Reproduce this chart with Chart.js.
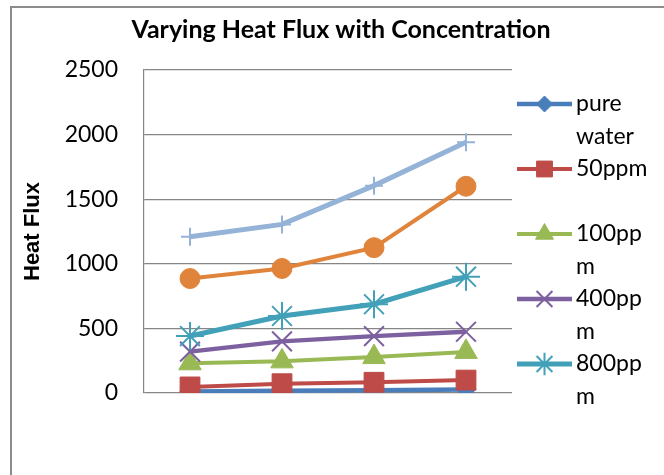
<!DOCTYPE html>
<html lang="en">
<head>
  <meta charset="UTF-8">
  <title>Varying Heat Flux with Concentration</title>
  <script src="https://cdn.jsdelivr.net/npm/chart.js"></script>
  <style>
    html, body { margin: 0; padding: 0; background: #fff; }
    canvas { display: block; }
  </style>
</head>
<body>
  <canvas id="grafico" width="664" height="475"></canvas>

  <script>
    // data
    const categories = ['1', '2', '3', '4'];
    const seriesNames = ['pure water', '50ppm', '100ppm', '400ppm', '800ppm', 'Series6', 'Series7'];
    const pureWater = [12, 18, 22, 28];
    const ppm50 = [47, 72, 83, 100];
    const ppm100 = [230, 245, 278, 318];
    const ppm400 = [320, 400, 440, 474];
    const ppm800 = [441, 596, 687, 900];
    const series6 = [886, 964, 1125, 1600];
    const series7 = [1210, 1305, 1605, 1940];
    const yTicks = [0, 500, 1000, 1500, 2000, 2500];
    const legendCount = 5; // only the first five fit in the legend

    const colors = ['#4a7ebb', '#be4b48', '#98b954', '#7d60a0', '#42a1b9', '#e0843b', '#95b3d7'];
    const styles = ['rectRot', 'rect', 'triangle', 'crossRot', 'star', 'circle', 'cross'];
    const radii = [10, 14, 13, 14, 14, 10, 9];
    const widths = [4.5, 4, 4, 4.3, 5, 4, 5];
    const values = [pureWater, ppm50, ppm100, ppm400, ppm800, series6, series7];

    const datasets = values.map((v, i) => ({
      label: seriesNames[i],
      data: v,
      borderColor: colors[i],
      backgroundColor: colors[i],
      borderWidth: widths[i],
      pointStyle: styles[i],
      pointRadius: radii[i],
      pointHoverRadius: radii[i],
      pointBackgroundColor: colors[i],
      pointBorderColor: colors[i],
      pointBorderWidth: (styles[i] === 'cross' || styles[i] === 'crossRot' || styles[i] === 'star') ? 2 : 1,
      tension: 0,
      fill: false,
      order: -i // later series on top, like excel
    }));

    // wrap legend text into lines of limited width
    function wrapText(ctx, text, maxW) {
      const lines = [];
      let cur = '';
      text.split(' ').forEach(word => {
        const test = cur ? cur + ' ' + word : word;
        if (ctx.measureText(test).width <= maxW) { cur = test; return; }
        if (cur) lines.push(cur);
        cur = '';
        for (const ch of word) {
          if (ctx.measureText(cur + ch).width > maxW && cur) { lines.push(cur); cur = ch; }
          else cur += ch;
        }
      });
      if (cur) lines.push(cur);
      return lines;
    }

    const frame = {
      id: 'frame',
      beforeDraw(chart) {
        const ctx = chart.ctx;
        ctx.save();
        ctx.strokeStyle = '#8c8c8c';
        ctx.lineWidth = 2;
        ctx.beginPath();
        ctx.moveTo(11, chart.height);
        ctx.lineTo(11, 7);
        ctx.lineTo(chart.width, 7);
        ctx.stroke();
        ctx.restore();
      }
    };

    const sideLegend = {
      id: 'sideLegend',
      afterDraw(chart) {
        const ctx = chart.ctx;
        const area = chart.chartArea;
        const x0 = area.right + 5, x1 = area.right + 60, xm = (x0 + x1) / 2, xt = area.right + 64;
        const lineH = 32.5;
        let y = 104;
        ctx.save();
        ctx.font = '23px Lato';
        ctx.textBaseline = 'middle';
        for (let i = 0; i < legendCount; i++) {
          const ds = chart.data.datasets[i];
          ctx.strokeStyle = ds.borderColor;
          ctx.lineWidth = ds.borderWidth;
          ctx.beginPath();
          ctx.moveTo(x0, y);
          ctx.lineTo(x1, y);
          ctx.stroke();
          ctx.fillStyle = ds.pointBackgroundColor;
          ctx.strokeStyle = ds.pointBorderColor;
          ctx.lineWidth = ds.pointBorderWidth;
          Chart.helpers.drawPoint(ctx, {
            pointStyle: ds.pointStyle,
            radius: ds.pointRadius * 0.8,
            rotation: 0,
            borderWidth: ds.pointBorderWidth
          }, xm, y);
          ctx.fillStyle = '#000';
          const lines = wrapText(ctx, ds.label, 78);
          lines.forEach((t, k) => ctx.fillText(t, xt, y + k * lineH));
          y += lineH * 2;
        }
        ctx.restore();
      }
    };

    const ctx = document.getElementById('grafico').getContext('2d');
    new Chart(ctx, {
      type: 'line',
      data: { labels: categories, datasets: datasets },
      plugins: [frame, sideLegend],
      options: {
        responsive: false,
        animation: false,
        devicePixelRatio: 1,
        layout: { padding: { top: 0, left: 18, right: 0, bottom: 82 } },
        plugins: {
          legend: { display: false },
          tooltip: { enabled: false },
          title: {
            display: true,
            text: 'Varying Heat Flux with Concentration',
            color: '#000',
            font: { family: 'Lato', size: 25, weight: 'bold' },
            padding: { top: 15, bottom: 25 }
          }
        },
        scales: {
          x: { display: false, offset: true },
          y: {
            min: 0,
            max: 2500,
            afterBuildTicks(s) { s.ticks = yTicks.map(v => ({ value: v })); },
            afterFit(s) { s.width = 126; },
            grid: { color: '#868686', lineWidth: 1.2, drawTicks: false },
            border: { color: '#868686', width: 1.2 },
            ticks: { color: '#000', font: { family: 'Lato', size: 23 }, padding: 26, callback: v => String(v) },
            title: {
              display: true,
              text: 'Heat Flux',
              color: '#000',
              font: { family: 'Liberation Sans', size: 22, weight: 'bold' },
              padding: { top: 2, bottom: 0 }
            }
          },
          // empty axis on the right to keep room for the legend
          yr: {
            position: 'right',
            display: true,
            grid: { display: false },
            border: { display: false },
            ticks: { display: false },
            afterFit(s) { s.width = 152; }
          }
        }
      }
    });
  </script>
</body>
</html>
